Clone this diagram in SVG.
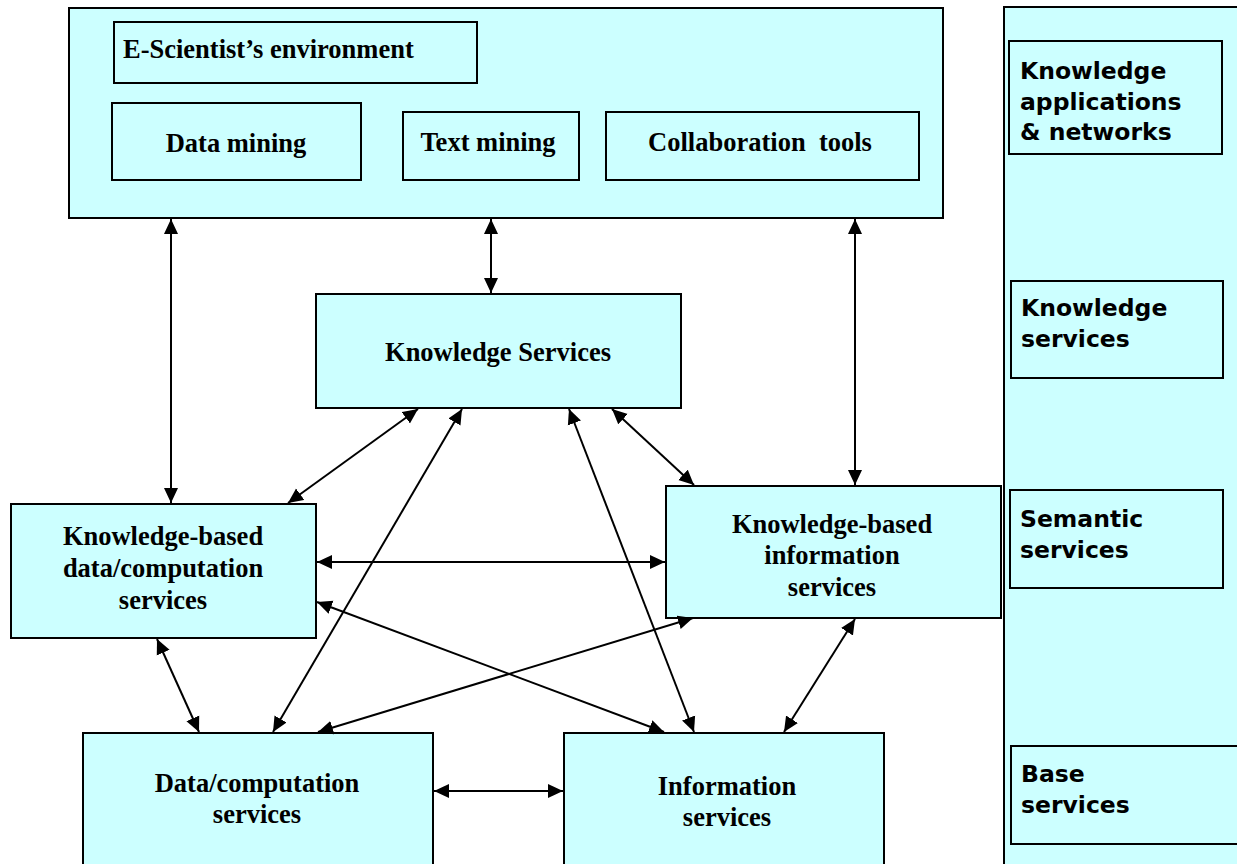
<svg xmlns="http://www.w3.org/2000/svg" width="1237" height="864" viewBox="0 0 1237 864">
  <style>
    .box { fill: #CCFFFF; stroke: #000; stroke-width: 2; }
    .inner { fill: none; stroke: #000; stroke-width: 2; }
    .t { font-family: "Liberation Serif", "Times New Roman", serif; font-weight: bold; font-size: 26.5px; fill: #000; text-anchor: middle; }
    .tl { font-family: "Liberation Serif", "Times New Roman", serif; font-weight: bold; font-size: 26.5px; fill: #000; }
    .s { font-family: "DejaVu Sans", Verdana, sans-serif; font-weight: bold; font-size: 23.5px; fill: #000; }
    .c { stroke: #000; stroke-width: 2; fill: none; marker-start: url(#arrow); marker-end: url(#arrow); }
  </style>
  <defs>
    <marker id="arrow" markerUnits="userSpaceOnUse" markerWidth="16" markerHeight="16" refX="15" refY="7.5" orient="auto-start-reverse">
      <path d="M0,0.5 L15,7.5 L0,14.5 z" fill="#000"/>
    </marker>
  </defs>

  <rect width="1237" height="864" fill="#fff"/>

  <!-- layer legend column on the right -->
  <g id="layer-panel">
    <rect class="box" x="1004" y="7" width="260" height="880"/>
  </g>
  <g id="layer-knowledge-apps">
    <rect class="inner" x="1009" y="41" width="213" height="113"/>
    <text class="s" x="1020" y="79">Knowledge</text>
    <text class="s" x="1020" y="110">applications</text>
    <text class="s" x="1020" y="140">&amp; networks</text>
  </g>
  <g id="layer-knowledge-services">
    <rect class="inner" x="1011" y="281" width="212" height="97"/>
    <text class="s" x="1021" y="316">Knowledge</text>
    <text class="s" x="1021" y="347">services</text>
  </g>
  <g id="layer-semantic">
    <rect class="inner" x="1010" y="490" width="213" height="98"/>
    <text class="s" x="1020" y="527">Semantic</text>
    <text class="s" x="1020" y="558">services</text>
  </g>
  <g id="layer-base">
    <rect class="inner" x="1011" y="746" width="240" height="98"/>
    <text class="s" x="1021" y="782">Base</text>
    <text class="s" x="1021" y="813">services</text>
  </g>

  <!-- e-scientist's environment -->
  <g id="environment">
    <rect class="box" x="69" y="8" width="874" height="210"/>
    <rect class="inner" x="114" y="22" width="363" height="61"/>
    <text class="tl" x="123" y="58">E-Scientist’s environment</text>
  </g>
  <g id="data-mining">
    <rect class="inner" x="112" y="103" width="249" height="77"/>
    <text class="t" x="236" y="152">Data mining</text>
  </g>
  <g id="text-mining">
    <rect class="inner" x="403" y="112" width="176" height="68"/>
    <text class="t" x="488" y="151">Text mining</text>
  </g>
  <g id="collaboration-tools">
    <rect class="inner" x="606" y="112" width="313" height="68"/>
    <text class="t" x="760" y="151" xml:space="preserve">Collaboration  tools</text>
  </g>

  <!-- service nodes -->
  <g id="knowledge-services">
    <rect class="box" x="316" y="294" width="365" height="114"/>
    <text class="t" x="498" y="361">Knowledge Services</text>
  </g>
  <g id="kb-data-computation">
    <rect class="box" x="11" y="504" width="305" height="134"/>
    <text class="t" x="163" y="545">Knowledge-based</text>
    <text class="t" x="163" y="577">data/computation</text>
    <text class="t" x="163" y="609">services</text>
  </g>
  <g id="kb-information">
    <rect class="box" x="666" y="486" width="335" height="132"/>
    <text class="t" x="832" y="533">Knowledge-based</text>
    <text class="t" x="832" y="564">information</text>
    <text class="t" x="832" y="596">services</text>
  </g>
  <g id="data-computation">
    <rect class="box" x="83" y="733" width="350" height="160"/>
    <text class="t" x="257" y="792">Data/computation</text>
    <text class="t" x="257" y="823">services</text>
  </g>
  <g id="information-services">
    <rect class="box" x="564" y="733" width="320" height="160"/>
    <text class="t" x="727" y="795">Information</text>
    <text class="t" x="727" y="826">services</text>
  </g>

  <!-- bidirectional connectors -->
  <g id="connectors">
    <line class="c" x1="171" y1="219" x2="171" y2="503"/>
    <line class="c" x1="491" y1="219" x2="491" y2="293"/>
    <line class="c" x1="855" y1="219" x2="855" y2="485"/>
    <line class="c" x1="418" y1="409" x2="288" y2="503"/>
    <line class="c" x1="612" y1="409" x2="694" y2="485"/>
    <line class="c" x1="462" y1="409" x2="273" y2="732"/>
    <line class="c" x1="569" y1="409" x2="694" y2="732"/>
    <line class="c" x1="317" y1="562" x2="665" y2="562"/>
    <line class="c" x1="317" y1="602" x2="664" y2="732"/>
    <line class="c" x1="693" y1="618" x2="318" y2="732"/>
    <line class="c" x1="157" y1="639" x2="199" y2="732"/>
    <line class="c" x1="855" y1="619" x2="784" y2="732"/>
    <line class="c" x1="434" y1="791" x2="563" y2="791"/>
  </g>
</svg>
